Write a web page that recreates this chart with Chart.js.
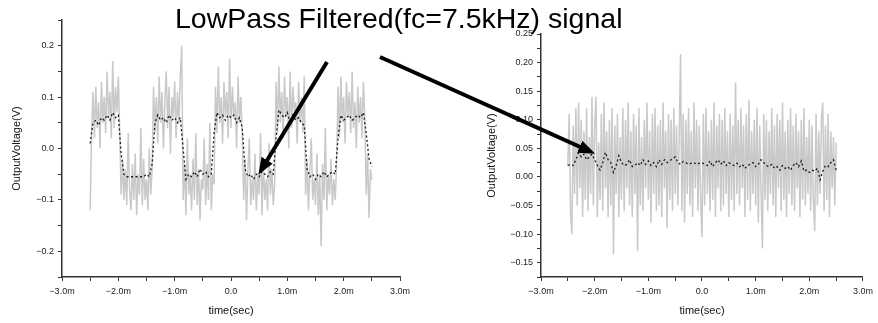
<!DOCTYPE html>
<html><head><meta charset="utf-8">
<script src="https://cdn.jsdelivr.net/npm/chart.js@4.4.1/dist/chart.umd.min.js"></script>
<style>
html,body{margin:0;padding:0;background:#fff;width:878px;height:323px;overflow:hidden;}
#wrap{position:relative;width:878px;height:323px;}
#c1{position:absolute;left:0;top:0;}
#c2{position:absolute;left:470px;top:0;}
#title{position:absolute;left:175px;top:2px;font-family:"Liberation Sans",Arial,sans-serif;font-size:28.5px;line-height:32px;color:#000;white-space:nowrap;}
#ann{position:absolute;left:0;top:0;}
</style></head>
<body><div id="wrap">
<canvas id="c1" width="420" height="323"></canvas>
<canvas id="c2" width="408" height="323"></canvas>
<div id="title">LowPass Filtered(fc=7.5kHz) signal</div>
<svg id="ann" width="878" height="323">
<defs><marker id="ah" markerUnits="userSpaceOnUse" markerWidth="17" markerHeight="13" refX="8" refY="6.5" orient="auto"><path d="M0,0 L17,6.5 L0,13 z" fill="#000"/></marker></defs>
<line x1="327" y1="62" x2="263" y2="167" stroke="#000" stroke-width="4" marker-end="url(#ah)"/>
<line x1="380" y1="57" x2="587" y2="150" stroke="#000" stroke-width="4" marker-end="url(#ah)"/>
</svg>
</div>
<script>
// time grid (ms)
const sampleTime = [-2.5,-2.475,-2.45,-2.425,-2.4,-2.375,-2.35,-2.325,-2.3,-2.275,
-2.25,-2.225,-2.2,-2.175,-2.15,-2.125,-2.1,-2.075,-2.05,-2.025,
-2,-1.975,-1.95,-1.925,-1.9,-1.875,-1.85,-1.825,-1.8,-1.775,
-1.75,-1.725,-1.7,-1.675,-1.65,-1.625,-1.6,-1.575,-1.55,-1.525,
-1.5,-1.475,-1.45,-1.425,-1.4,-1.375,-1.35,-1.325,-1.3,-1.275,
-1.25,-1.225,-1.2,-1.175,-1.15,-1.125,-1.1,-1.075,-1.05,-1.025,
-1,-0.975,-0.95,-0.925,-0.9,-0.875,-0.85,-0.825,-0.8,-0.775,
-0.75,-0.725,-0.7,-0.675,-0.65,-0.625,-0.6,-0.575,-0.55,-0.525,
-0.5,-0.475,-0.45,-0.425,-0.4,-0.375,-0.35,-0.325,-0.3,-0.275,
-0.25,-0.225,-0.2,-0.175,-0.15,-0.125,-0.1,-0.075,-0.05,-0.025,
0,
0.025,0.05,0.075,0.1,0.125,0.15,0.175,0.2,0.225,0.25,
0.275,0.3,0.325,0.35,0.375,0.4,0.425,0.45,0.475,0.5,
0.525,0.55,0.575,0.6,0.625,0.65,0.675,0.7,0.725,0.75,
0.775,0.8,0.825,0.85,0.875,0.9,0.925,0.95,0.975,1,
1.025,1.05,1.075,1.1,1.125,1.15,1.175,1.2,1.225,1.25,
1.275,1.3,1.325,1.35,1.375,1.4,1.425,1.45,1.475,1.5,
1.525,1.55,1.575,1.6,1.625,1.65,1.675,1.7,1.725,1.75,
1.775,1.8,1.825,1.85,1.875,1.9,1.925,1.95,1.975,2,
2.025,2.05,2.075,2.1,2.125,2.15,2.175,2.2,2.225,2.25,
2.275,2.3,2.325,2.35,2.375,2.4,2.425,2.45,2.475,2.5];

const filterTime = [-2.5,-2.45,-2.4,-2.35,-2.3,-2.25,-2.2,-2.15,-2.1,-2.05,
-2,-1.95,-1.9,-1.85,-1.8,-1.75,-1.7,-1.65,-1.6,-1.55,
-1.5,-1.45,-1.4,-1.35,-1.3,-1.25,-1.2,-1.15,-1.1,-1.05,
-1,-0.95,-0.9,-0.85,-0.8,-0.75,-0.7,-0.65,-0.6,-0.55,
-0.5,-0.45,-0.4,-0.35,-0.3,-0.25,-0.2,-0.15,-0.1,-0.05,
0,
0.05,0.1,0.15,0.2,0.25,0.3,0.35,0.4,0.45,0.5,
0.55,0.6,0.65,0.7,0.75,0.8,0.85,0.9,0.95,1,
1.05,1.1,1.15,1.2,1.25,1.3,1.35,1.4,1.45,1.5,
1.55,1.6,1.65,1.7,1.75,1.8,1.85,1.9,1.95,2,
2.05,2.1,2.15,2.2,2.25,2.3,2.35,2.4,2.45,2.5];

// Left panel: raw (noisy square wave) and low-pass filtered output (V)
const leftRaw = [
-.12,.03,.11,.02,.12,.04,.09,.0,.13,.05,.1,.03,.15,.06,.11,.02,.17,.04,.12,.07,.14,.03,
-.09,-.02,-.1,-.04,-.11,.03,-.08,-.12,-.03,-.1,-.01,-.13,-.05,-.09,.04,-.11,-.02,-.1,-.06,-.12,.0,-.09,-.04,
.12,.03,.1,.01,.14,.05,.11,.0,.09,.15,.04,.12,-.01,.1,.06,.13,.02,.11,.05,.14,.2,
-.1,-.03,-.13,.02,-.09,-.05,-.12,-.02,-.1,.03,-.11,-.04,-.14,-.06,-.08,.02,-.11,-.03,-.1,.05,-.12,-.05,
-.07,.12,.03,.16,.05,.1,.01,.13,.06,.11,.02,.175,.04,.12,.06,.09,.0,.14,.05,.1,.03,
-.1,-.02,-.14,-.04,.02,-.11,-.06,-.1,-.01,-.12,-.05,-.09,.03,-.13,-.03,-.1,-.06,-.12,.01,-.09,-.04,-.11,-.07,
.13,.03,.16,.05,.11,.02,.14,.06,.1,.0,.15,.04,.12,.07,.09,.01,.13,.05,.1,.03,.14,
-.09,-.02,-.12,-.04,.02,-.1,-.06,-.11,-.01,-.13,-.05,-.19,-.03,-.1,.04,-.12,-.05,-.09,-.02,-.11,-.06,-.1,-.03,
.12,.02,.14,.05,.1,.01,.13,.06,.11,.03,.15,.04,.09,.0,.12,.05,.1,.02,.13,.06,
-.09,-.01,-.135,-.04,-.06];

const leftFiltered = [
.01,.05,.055,.045,.06,.055,.065,.055,.07,.06,
.065,-.01,-.05,-.055,-.055,-.055,-.055,-.055,-.055,-.055,
-.05,-.055,-.03,.05,.065,.055,.06,.05,.065,.055,
.06,.05,.06,.0,-.06,-.05,-.055,-.045,-.055,-.04,
-.05,-.045,-.055,-.05,.03,.07,.06,.065,.055,.065,
.06,
.065,.05,.06,.04,-.04,-.055,-.05,-.06,-.05,-.055,
-.045,-.05,-.055,-.045,-.05,.02,.075,.065,.06,.07,
.05,.065,.055,.06,.05,.045,-.04,-.055,-.05,-.06,
-.05,-.055,-.045,-.055,-.05,-.045,-.05,.02,.065,.055,
.06,.065,.055,.06,.065,.06,.07,.03,-.02,-.035];

// Right panel: raw (noise only) and low-pass filtered output (V)
const rightRaw = [
.02,.11,-.06,-.1,.09,-.03,.12,-.05,.13,-.02,
.1,-.07,.08,-.04,.12,-.06,.07,-.03,.14,-.05,
.09,.14,-.07,.06,-.04,.11,-.06,.13,-.02,.08,
-.07,.1,-.05,.12,-.135,.09,-.03,.11,-.07,.07,
-.04,.12,-.06,.1,-.02,.13,-.05,.08,-.07,.11,
-.03,.09,-.13,.12,-.05,.07,-.06,.1,-.02,.13,
-.04,.08,-.08,.11,-.03,.12,-.06,.09,-.05,.1,
-.07,.13,-.02,.08,-.09,.11,-.04,.1,-.06,.12,
-.03,.09,-.05,.07,.215,-.06,.11,-.08,.1,-.03,
.12,-.05,.08,-.07,.13,-.02,.1,-.06,.09,-.04,
-.105,.11,-.05,.12,-.03,.08,-.06,.1,-.04,.13,
-.07,.09,-.02,.11,-.06,.1,-.05,.12,-.03,.08,
-.07,.11,-.04,.09,-.06,.165,-.03,.1,-.05,.12,
-.02,.09,-.07,.11,-.04,.135,-.06,.08,-.03,.1,
-.05,.12,-.08,.09,-.02,-.125,.11,-.04,.1,-.06,
.08,-.03,.12,-.05,.09,-.07,.11,-.02,.1,-.06,
.13,-.04,.08,-.07,.1,-.03,.12,-.05,.09,-.06,
.11,-.02,.08,-.07,.1,-.04,.12,-.05,.07,-.03,
.1,-.06,.09,-.04,-.095,.11,-.05,.08,-.03,.1,
.13,-.06,.09,-.04,.11,-.07,.08,-.02,.07,-.05,
.06];

const rightFiltered = [
.02,.022,.02,.03,.042,.035,.04,.03,.035,.04,
.03,.02,.012,.025,.043,.03,.025,.008,.02,.037,
.025,.02,.022,.03,.018,.02,.025,.02,.03,.022,
.028,.02,.025,.018,.03,.022,.03,.025,.028,.032,
.035,.025,.022,.027,.025,.022,.024,.025,.022,.024,
.025,
.022,.02,.028,.018,.025,.03,.022,.028,.02,.025,
.022,.02,.024,.018,.022,.015,.02,.022,.025,.018,
.022,.03,.025,.02,.018,.022,.015,.018,.012,.02,
.015,.018,.012,.02,.025,.018,.028,.01,.012,.008,
.012,.01,.015,-.005,.01,.02,.018,.025,.03,.012];

// tick labels
const xTickValues = [-3,-2,-1,0,1,2,3];
const xTickLabels = ['\u22123.0m','\u22122.0m','\u22121.0m','0.0','1.0m','2.0m','3.0m'];
const leftYTickValues = [-0.2,-0.1,0,0.1,0.2];
const leftYTickLabels = ['\u22120.2','\u22120.1','0.0','0.1','0.2'];
const rightYTickValues = [-0.15,-0.1,-0.05,0,0.05,0.1,0.15,0.2,0.25];
const rightYTickLabels = ['\u22120.15','\u22120.10','\u22120.05','0.00','0.05','0.10','0.15','0.20','0.25'];

const axisTitleX = 'time(sec)';
const axisTitleY = 'OutputVoltage(V)';

function labelFor(values, labels) {
  return function (v) {
    for (let i = 0; i < values.length; i++) {
      if (Math.abs(values[i] - v) < 1e-6) return labels[i];
    }
    return '';
  };
}

function pts(xs, ys) { return xs.map((x, i) => ({ x: x, y: ys[i] })); }

const FONT = '"Liberation Sans", Arial, sans-serif';

function makeChart(id, raw, filt, cfg) {
  return new Chart(document.getElementById(id), {
    type: 'line',
    data: {
      datasets: [
        { data: pts(filterTime, filt), borderColor: '#1a1a1a', borderWidth: 1.3, borderDash: [2, 2.5], pointRadius: 0, tension: 0, fill: false },
        { data: pts(sampleTime, raw), borderColor: '#c9c9c9', borderWidth: 1.5, pointRadius: 0, tension: 0, fill: false }
      ]
    },
    options: {
      responsive: false,
      animation: false,
      events: [],
      layout: { padding: cfg.padding },
      plugins: { legend: { display: false }, tooltip: { enabled: false } },
      scales: {
        x: {
          type: 'linear', min: -3, max: 3,
          afterFit: s => { s.height = cfg.xAxisHeight; },
          ticks: { stepSize: 0.5, autoSkip: false, maxRotation: 0, padding: 5, color: '#222', font: { family: FONT, size: 9 }, callback: labelFor(xTickValues, xTickLabels) },
          grid: { drawOnChartArea: false, drawTicks: true, tickLength: 4, color: '#333', lineWidth: 1 },
          border: { display: true, color: '#333', width: 1.5 },
          title: { display: true, text: axisTitleX, color: '#111', font: { family: FONT, size: 11 }, padding: { top: 0, bottom: 5 } }
        },
        y: {
          type: 'linear', min: cfg.yMin, max: cfg.yMax,
          afterFit: s => { s.width = cfg.yAxisWidth; },
          ticks: { stepSize: cfg.yStep, autoSkip: false, padding: 4, color: '#222', font: { family: FONT, size: 9 }, callback: labelFor(cfg.yVals, cfg.yLabels) },
          grid: { drawOnChartArea: false, drawTicks: true, tickLength: 4, color: '#333', lineWidth: 1 },
          border: { display: true, color: '#333', width: 1.5 },
          title: { display: true, text: axisTitleY, color: '#111', font: { family: FONT, size: 11 }, padding: { top: cfg.yTitlePad, bottom: 0 } }
        }
      }
    }
  });
}

makeChart('c1', leftRaw, leftFiltered, {
  padding: { left: 0, right: 20, top: 20, bottom: 0 },
  xAxisHeight: 46, yAxisWidth: 62, yMin: -0.25, yMax: 0.25, yStep: 0.05,
  yVals: leftYTickValues, yLabels: leftYTickLabels, yTitlePad: 10
});
makeChart('c2', rightRaw, rightFiltered, {
  padding: { left: 0, right: 14, top: 34, bottom: 0 },
  xAxisHeight: 46, yAxisWidth: 71, yMin: -0.175, yMax: 0.25, yStep: 0.025,
  yVals: rightYTickValues, yLabels: rightYTickLabels, yTitlePad: 15
});
</script>
</body></html>
